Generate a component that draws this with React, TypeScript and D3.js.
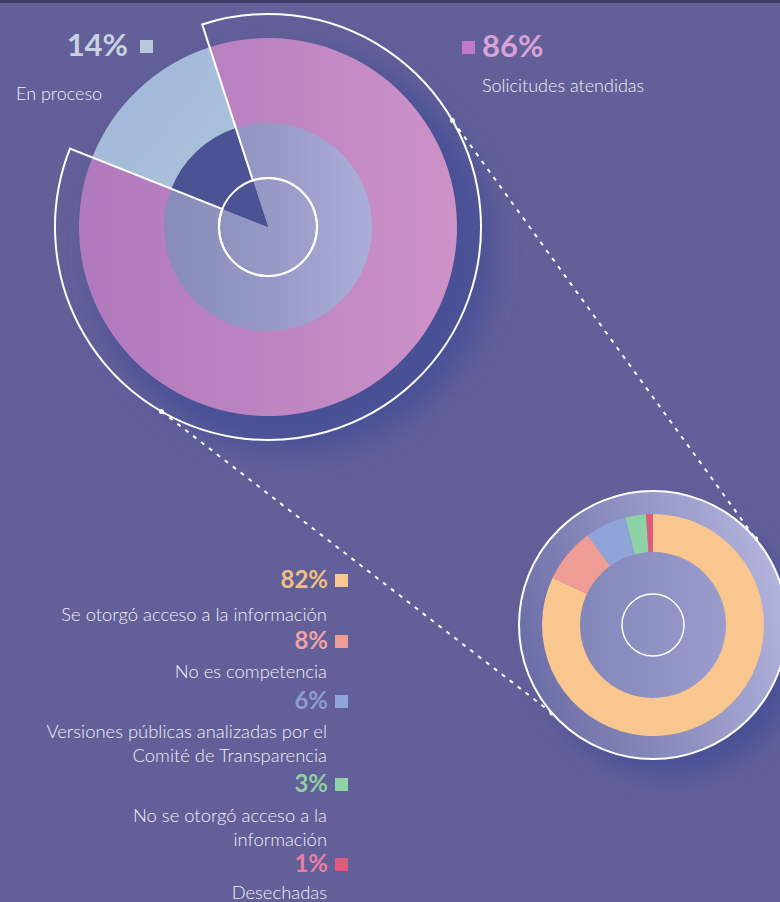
import React from "react";
import * as d3 from "d3";

// ---------- DATA ----------
const mainCategories = ["Solicitudes atendidas", "En proceso"];
const mainValues = [86, 14];
const mainLabels = ["86%", "14%"];

const detailCategories = [
  "Se otorgó acceso a la información",
  "No es competencia",
  "Versiones públicas analizadas por el Comité de Transparencia",
  "No se otorgó acceso a la información",
  "Desechadas",
];
const detailValues = [82, 8, 6, 3, 1];
const detailLabels = ["82%", "8%", "6%", "3%", "1%"];
const detailLabelLines = [
  ["Se otorgó acceso a la información"],
  ["No es competencia"],
  ["Versiones públicas analizadas por el", "Comité de Transparencia"],
  ["No se otorgó acceso a la", "información"],
  ["Desechadas"],
];

// ---------- STYLE ----------
const W = 780;
const H = 902;
const BG = "#625f99";
const FONT = "Lato, 'Open Sans', sans-serif";

const mainFills = ["url(#pinkGrad)", "url(#blueGrad)"];
const mainInnerFills = ["url(#innerGrad)", "#4b5395"];
const mainPctColors = ["#d8a2d6", "#c6d2e0"];
const mainSquareColors = ["#c27ac6", "#b8c8dc"];

const detailColors = ["#f8c68e", "#ee9c94", "#8fa4d8", "#8dd3a5", "#df5a7b"];
const detailPctColors = ["#f2bf82", "#f0a3a5", "#8c9ecf", "#8fd0a3", "#ea7fa3"];

export default function App() {
  // big pie geometry
  const c1 = { x: 268, y: 227 };
  const r1Outer = 189;
  const r1Inner = 104;
  const r1Hole = 49;
  const r1Outline = 213;
  const start1 = (-18 * Math.PI) / 180;

  const pie1 = d3
    .pie<number>()
    .sort(null)
    .value((d) => d)
    .startAngle(start1)
    .endAngle(start1 + 2 * Math.PI);
  const arcs1 = pie1(mainValues);
  const arcOuter1 = d3.arc<d3.PieArcDatum<number>>().innerRadius(r1Inner - 1).outerRadius(r1Outer);
  const arcInner1 = d3.arc<d3.PieArcDatum<number>>().innerRadius(0).outerRadius(r1Inner);
  const outlinePath = d3.arc()({
    innerRadius: r1Hole,
    outerRadius: r1Outline,
    startAngle: arcs1[0].startAngle,
    endAngle: arcs1[0].endAngle,
  } as any) as string;

  // small pie geometry
  const c2 = { x: 653, y: 625 };
  const r2Disk = 134;
  const r2Outer = 111;
  const r2Inner = 73;
  const r2Hole = 31;
  const pie2 = d3.pie<number>().sort(null).value((d) => d).startAngle(0).endAngle(2 * Math.PI);
  const arcs2 = pie2(detailValues);
  const arc2 = d3.arc<d3.PieArcDatum<number>>().innerRadius(r2Inner - 1).outerRadius(r2Outer);

  // connector lines: from the outline arc to the small disk
  const angA = (60 * Math.PI) / 180; // upper right
  const angB = (210 * Math.PI) / 180; // lower left
  const pt = (c: { x: number; y: number }, r: number, a: number) => ({
    x: c.x + r * Math.sin(a),
    y: c.y - r * Math.cos(a),
  });
  const lineA = [pt(c1, r1Outline, angA), pt(c2, r2Disk, (50 * Math.PI) / 180)];
  const lineB = [pt(c1, r1Outline, angB), pt(c2, r2Disk, (229 * Math.PI) / 180)];

  // legend layout
  const legendX = 328;
  const pctBaselines = [588, 649, 709, 792, 872];
  const labelFirstBaselines = [621, 678, 738, 822, 899];
  const lineGap = 24;

  return (
    <svg
      width={W}
      height={H}
      viewBox={`0 0 ${W} ${H}`}
      style={{ position: "absolute", left: 0, top: 0, display: "block" }}
    >
      <defs>
        <filter id="blur1" x="-30%" y="-30%" width="160%" height="160%">
          <feGaussianBlur stdDeviation="14" />
        </filter>
        <filter id="blur2" x="-30%" y="-30%" width="160%" height="160%">
          <feGaussianBlur stdDeviation="12" />
        </filter>
        <linearGradient id="pinkGrad" gradientUnits="userSpaceOnUse" x1={-r1Outer} y1={0} x2={r1Outer} y2={0}>
          <stop offset="0" stopColor="#b079bd" />
          <stop offset="0.5" stopColor="#bd84c2" />
          <stop offset="1" stopColor="#cd93c8" />
        </linearGradient>
        <linearGradient id="blueGrad" gradientUnits="userSpaceOnUse" x1={-180} y1={-160} x2={-30} y2={-40}>
          <stop offset="0" stopColor="#a0b8d8" />
          <stop offset="1" stopColor="#abc3db" />
        </linearGradient>
        <linearGradient id="innerGrad" gradientUnits="userSpaceOnUse" x1={-r1Inner} y1={0} x2={r1Inner} y2={0}>
          <stop offset="0" stopColor="#878bb7" />
          <stop offset="0.5" stopColor="#9599c4" />
          <stop offset="1" stopColor="#aaaed8" />
        </linearGradient>
        <linearGradient id="diskGrad" gradientUnits="userSpaceOnUse" x1={-r2Disk} y1={40} x2={r2Disk} y2={-40}>
          <stop offset="0" stopColor="#6a6ca5" />
          <stop offset="1" stopColor="#b3b5dd" />
        </linearGradient>
        <linearGradient id="diskInnerGrad" gradientUnits="userSpaceOnUse" x1={-r2Inner} y1={0} x2={r2Inner} y2={0}>
          <stop offset="0" stopColor="#8286b9" />
          <stop offset="1" stopColor="#9a9dcc" />
        </linearGradient>
      </defs>

      <rect x={0} y={0} width={W} height={H} fill={BG} />
      <rect x={0} y={0} width={W} height={3} fill="#3f3c6a" />

      {/* shadows */}
      <circle cx={c1.x + 26} cy={c1.y + 26} r={200} fill="#4a5196" filter="url(#blur1)" />
      <circle cx={c2.x + 18} cy={c2.y + 20} r={132} fill="#4a5196" filter="url(#blur2)" />

      {/* big pie */}
      <g transform={`translate(${c1.x},${c1.y})`}>
        {arcs1.map((a, i) => (
          <path key={`o${i}`} d={arcOuter1(a) as string} fill={mainFills[i]} />
        ))}
        {arcs1.map((a, i) => (
          <path key={`i${i}`} d={arcInner1(a) as string} fill={mainInnerFills[i]} />
        ))}
        <path d={outlinePath} fill="none" stroke="#ffffff" strokeWidth={2} />
        <circle r={r1Hole} fill="none" stroke="#ffffff" strokeWidth={2} />
      </g>

      {/* connectors */}
      {[lineA, lineB].map((l, i) => (
        <g key={`ln${i}`}>
          <line
            x1={l[0].x}
            y1={l[0].y}
            x2={l[1].x}
            y2={l[1].y}
            stroke="#ffffff"
            strokeWidth={2}
            strokeDasharray="4 6"
          />
          <circle cx={l[0].x} cy={l[0].y} r={2.5} fill="#ffffff" />
          <circle cx={l[1].x} cy={l[1].y} r={2.5} fill="#ffffff" />
        </g>
      ))}

      {/* small pie */}
      <g transform={`translate(${c2.x},${c2.y})`}>
        <circle r={r2Disk} fill="url(#diskGrad)" stroke="#ffffff" strokeWidth={2} />
        {arcs2.map((a, i) => (
          <path key={`s${i}`} d={arc2(a) as string} fill={detailColors[i]} />
        ))}
        <circle r={r2Inner} fill="url(#diskInnerGrad)" />
        <circle r={r2Hole} fill="none" stroke="#ffffff" strokeWidth={1.5} />
      </g>

      {/* main labels */}
      <text x={128} y={56} textAnchor="end" fontFamily={FONT} fontWeight={700} fontSize={31} fill={mainPctColors[1]}>
        {mainLabels[1]}
      </text>
      <rect x={140} y={40} width={13} height={13} fill={mainSquareColors[1]} />
      <text x={16} y={100} fontFamily={FONT} fontWeight={300} fontSize={18} fill="#f0f0f7">
        {mainCategories[1]}
      </text>

      <rect x={462} y={41} width={13} height={13} fill={mainSquareColors[0]} />
      <text x={482} y={57} fontFamily={FONT} fontWeight={700} fontSize={31} fill={mainPctColors[0]}>
        {mainLabels[0]}
      </text>
      <text x={482} y={92} fontFamily={FONT} fontWeight={300} fontSize={18} fill="#f0f0f7">
        {mainCategories[0]}
      </text>

      {/* detail legend */}
      {detailCategories.map((cat, i) => (
        <g key={cat}>
          <text
            x={legendX}
            y={pctBaselines[i]}
            textAnchor="end"
            fontFamily={FONT}
            fontWeight={700}
            fontSize={24}
            fill={detailPctColors[i]}
          >
            {detailLabels[i]}
          </text>
          <rect x={335} y={pctBaselines[i] - 14} width={13} height={13} fill={detailColors[i]} />
          {detailLabelLines[i].map((ln, j) => (
            <text
              key={j}
              x={legendX - 1}
              y={labelFirstBaselines[i] + j * lineGap}
              textAnchor="end"
              fontFamily={FONT}
              fontWeight={300}
              fontSize={18.4}
              fill="#f0f0f7"
            >
              {ln}
            </text>
          ))}
        </g>
      ))}
    </svg>
  );
}
